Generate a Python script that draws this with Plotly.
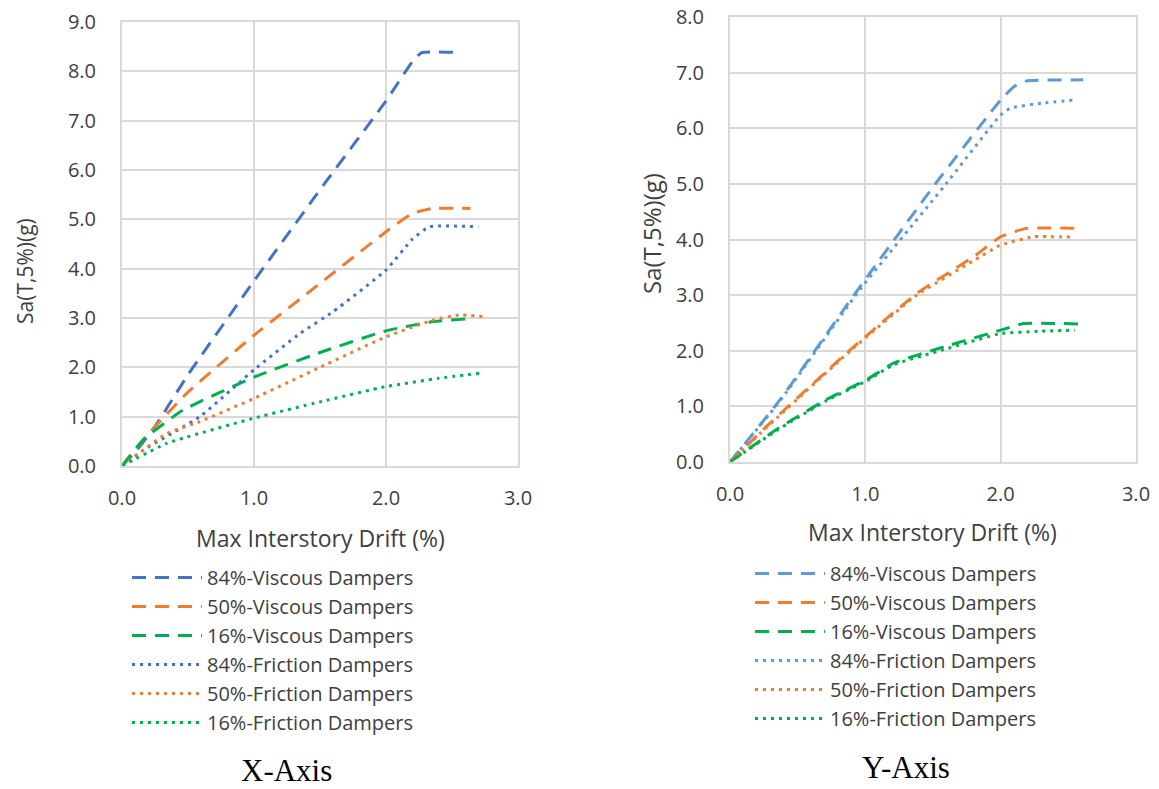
import plotly.graph_objects as go

# ---------------- data (X-Axis panel) ----------------
x_v84 = [0.0, 0.1, 0.25, 0.5, 1.0, 1.5, 2.0, 2.2, 2.27, 2.56]
y_v84 = [0.0, 0.28, 0.8, 1.85, 3.75, 5.6, 7.4, 8.2, 8.38, 8.38]
x_v50 = [0.0, 0.2, 0.5, 1.0, 1.5, 2.0, 2.2, 2.35, 2.64]
y_v50 = [0.0, 0.65, 1.5, 2.65, 3.7, 4.75, 5.12, 5.22, 5.22]
x_v16 = [0.0, 0.16, 0.46, 1.0, 1.5, 2.0, 2.36, 2.61]
y_v16 = [0.0, 0.53, 1.13, 1.8, 2.3, 2.74, 2.93, 2.98]
x_f84 = [0.0, 0.16, 0.59, 1.0, 1.35, 1.6, 2.0, 2.2, 2.33, 2.70]
y_f84 = [0.0, 0.32, 1.0, 1.95, 2.69, 3.13, 3.97, 4.6, 4.85, 4.85]
x_f50 = [0.0, 0.34, 0.59, 1.0, 1.5, 2.0, 2.36, 2.55, 2.74]
y_f50 = [0.0, 0.66, 0.9, 1.37, 2.0, 2.62, 2.96, 3.06, 3.03]
x_f16 = [0.0, 0.34, 1.0, 1.5, 2.0, 2.4, 2.71]
y_f16 = [0.0, 0.46, 0.97, 1.3, 1.61, 1.78, 1.88]

# ---------------- data (Y-Axis panel) ----------------
xb_v84 = [0.0, 0.37, 0.96, 1.53, 2.0, 2.1, 2.19, 2.61]
yb_v84 = [0.0, 1.12, 3.15, 5.04, 6.51, 6.75, 6.85, 6.87]
xb_v50 = [0.0, 0.27, 0.89, 1.38, 1.80, 2.0, 2.19, 2.61]
yb_v50 = [0.0, 0.64, 2.02, 3.03, 3.69, 4.05, 4.2, 4.2]
xb_v16 = [0.0, 0.34, 0.71, 1.01, 1.21, 1.58, 2.0, 2.17, 2.61]
yb_v16 = [0.0, 0.58, 1.12, 1.48, 1.78, 2.07, 2.37, 2.49, 2.48]
xb_f84 = [0.0, 0.37, 0.96, 1.58, 2.0, 2.07, 2.3, 2.55]
yb_f84 = [0.0, 1.1, 3.1, 4.95, 6.24, 6.36, 6.45, 6.51]
xb_f50 = [0.0, 0.27, 0.89, 1.38, 1.80, 2.0, 2.24, 2.55]
yb_f50 = [0.0, 0.62, 2.0, 3.0, 3.62, 3.9, 4.05, 4.04]
xb_f16 = [0.0, 0.34, 0.71, 1.01, 1.21, 1.58, 2.0, 2.3, 2.55]
yb_f16 = [0.0, 0.56, 1.1, 1.46, 1.75, 2.02, 2.31, 2.35, 2.37]

names = ["84%-Viscous Dampers", "50%-Viscous Dampers", "16%-Viscous Dampers",
         "84%-Friction Dampers", "50%-Friction Dampers", "16%-Friction Dampers"]

x_ticks = [0.0, 1.0, 2.0, 3.0]
y_ticks_a = [0.0, 1.0, 2.0, 3.0, 4.0, 5.0, 6.0, 7.0, 8.0, 9.0]
y_ticks_b = [0.0, 1.0, 2.0, 3.0, 4.0, 5.0, 6.0, 7.0, 8.0]

BLUE_A = "#4472C4"
BLUE_B = "#5B9BD5"
ORANGE = "#ED7D31"
GREEN = "#00B050"
DASH = "14px,9px"
DOT = "3px,5px"
FONT = "Open Sans"
TXT = "#404040"

fig = go.Figure()

panel_a = [(x_v84, y_v84, BLUE_A, DASH), (x_v50, y_v50, ORANGE, DASH), (x_v16, y_v16, GREEN, DASH),
           (x_f84, y_f84, BLUE_A, DOT), (x_f50, y_f50, ORANGE, DOT), (x_f16, y_f16, GREEN, DOT)]
panel_b = [(xb_v84, yb_v84, BLUE_B, DASH), (xb_v50, yb_v50, ORANGE, DASH), (xb_v16, yb_v16, GREEN, DASH),
           (xb_f84, yb_f84, BLUE_B, DOT), (xb_f50, yb_f50, ORANGE, DOT), (xb_f16, yb_f16, GREEN, DOT)]

for (xs, ys, c, d), n in zip(panel_a, names):
    fig.add_trace(go.Scatter(x=xs, y=ys, mode="lines", name=n,
                             line=dict(color=c, dash=d, width=3, shape="spline", smoothing=0.4),
                             xaxis="x", yaxis="y", legend="legend"))
for (xs, ys, c, d), n in zip(panel_b, names):
    fig.add_trace(go.Scatter(x=xs, y=ys, mode="lines", name=n,
                             line=dict(color=c, dash=d, width=3, shape="spline", smoothing=0.4),
                             xaxis="x2", yaxis="y2", legend="legend2"))

W, H = 1159, 789
grid = "#D9D9D9"
tickfont = dict(family=FONT, size=20, color=TXT)


def xa(dom):
    return dict(domain=dom, range=[0, 3], tickvals=x_ticks, ticktext=[f"{v:.1f}" for v in x_ticks],
                showgrid=True, gridcolor=grid, gridwidth=2, showline=True, linecolor=grid, linewidth=2,
                mirror=True, zeroline=False, ticks="", tickfont=tickfont, ticklabelstandoff=13,
                fixedrange=True, automargin=False)


def ya(dom, top, vals):
    return dict(domain=dom, range=[0, top], tickvals=vals, ticktext=[f"{v:.1f}" for v in vals],
                showgrid=True, gridcolor=grid, gridwidth=2, showline=True, linecolor=grid, linewidth=2,
                mirror=True, zeroline=False, ticks="", tickfont=tickfont, ticklabelstandoff=20,
                fixedrange=True, automargin=False)


legfont = dict(family=FONT, size=20, color=TXT)

fig.update_layout(
    width=W, height=H, margin=dict(l=0, r=0, t=0, b=0, pad=0, autoexpand=False),
    paper_bgcolor="white", plot_bgcolor="white",
    xaxis=xa([122 / W, 518 / W]),
    yaxis=ya([1 - 466 / H, 1 - 22 / H], 9, y_ticks_a),
    xaxis2=xa([730 / W, 1136 / W]),
    yaxis2=ya([1 - 462 / H, 1 - 17 / H], 8, y_ticks_b),
    xaxis2_anchor="y2", yaxis2_anchor="x2",
    legend=dict(x=127 / W, y=1 - 558 / H, xanchor="left", yanchor="top", font=legfont,
                tracegroupgap=0, itemwidth=70, bgcolor="rgba(0,0,0,0)"),
    legend2=dict(x=750 / W, y=1 - 554 / H, xanchor="left", yanchor="top", font=legfont,
                 tracegroupgap=0, itemwidth=70, bgcolor="rgba(0,0,0,0)"),
    showlegend=True,
    annotations=[
        dict(text="Sa(T,5%)(g)", x=25 / W, y=1 - 271 / H, xref="paper", yref="paper", textangle=-90,
             showarrow=False, font=dict(family=FONT, size=21, color=TXT), xanchor="center", yanchor="middle"),
        dict(text="Sa(T,5%)(g)", x=652 / W, y=1 - 234 / H, xref="paper", yref="paper", textangle=-90,
             showarrow=False, font=dict(family=FONT, size=24, color=TXT), xanchor="center", yanchor="middle"),
        dict(text="Max Interstory Drift (%)", x=320 / W, y=1 - 538 / H, xref="paper", yref="paper",
             showarrow=False, font=dict(family=FONT, size=23, color=TXT), xanchor="center", yanchor="middle"),
        dict(text="Max Interstory Drift (%)", x=933 / W, y=1 - 532 / H, xref="paper", yref="paper",
             showarrow=False, font=dict(family=FONT, size=23, color=TXT), xanchor="center", yanchor="middle"),
        dict(text="X-Axis", x=286 / W, y=1 - 770 / H, xref="paper", yref="paper",
             showarrow=False, font=dict(family="Liberation Serif", size=31, color="black"),
             xanchor="center", yanchor="middle"),
        dict(text="Y-Axis", x=906 / W, y=1 - 767 / H, xref="paper", yref="paper",
             showarrow=False, font=dict(family="Liberation Serif", size=31, color="black"),
             xanchor="center", yanchor="middle"),
    ],
)

fig.write_html("out.html",
               post_script="document.body.style.margin='0';document.body.style.overflow='hidden';")
